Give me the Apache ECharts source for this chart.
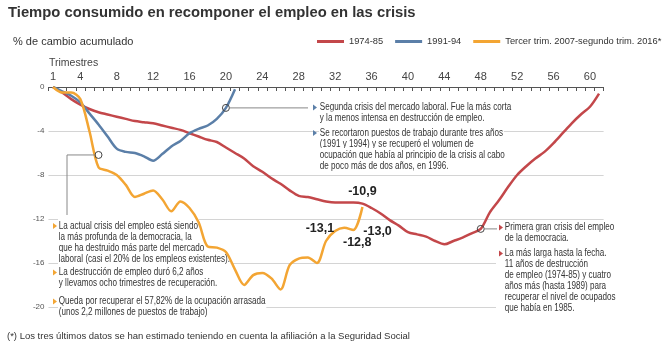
<!DOCTYPE html>
<html><head><meta charset="utf-8">
<script src="https://cdn.jsdelivr.net/npm/echarts@6/dist/echarts.min.js"></script>
<style>html,body{margin:0;padding:0;background:#fff}#c{width:664px;height:347px}</style>
</head><body><div id="c"></div>
<script>
// ---- data ----
const quarters = ['1','2','3','4','5','6','7','8','9','10','11','12','13','14','15','16','17','18','19','20',
  '21','22','23','24','25','26','27','28','29','30','31','32','33','34','35','36','37','38','39','40',
  '41','42','43','44','45','46','47','48','49','50','51','52','53','54','55','56','57','58','59','60','61'];
const shownTicks = ['1','4','8','12','16','20','24','28','32','36','40','44','48','52','56','60'];
const seriesNames = ['1974-85', '1991-94', 'Tercer trim. 2007-segundo trim. 2016*'];
const crisis7485 = [0,-0.5,-1.1,-1.6,-2.0,-2.3,-2.5,-2.7,-2.9,-3.1,-3.2,-3.3,-3.5,-3.7,-3.9,-4.2,-4.5,-4.8,-5.0,-5.5,
  -6.0,-6.5,-7.2,-7.7,-8.3,-8.8,-9.4,-9.9,-10.0,-10.2,-10.4,-10.5,-10.5,-10.5,-10.6,-11.0,-11.5,-12.1,-12.6,-13.2,
  -13.4,-13.6,-14.0,-14.3,-14.0,-13.7,-13.3,-12.9,-11.4,-10.3,-9.1,-8.0,-7.2,-6.5,-5.9,-5.1,-4.2,-3.3,-2.5,-1.8,-0.6];
const crisis9194 = [0,-0.4,-0.8,-1.4,-2.4,-3.4,-4.5,-5.6,-5.9,-6.0,-6.3,-6.7,-6.1,-5.4,-4.9,-4.2,-3.8,-3.5,-2.9,-1.9,-0.2];
const crisis0716 = [0,-0.5,-0.5,-1.1,-4.0,-7.3,-7.6,-8.0,-8.9,-10.0,-9.7,-9.4,-10.2,-11.3,-10.4,-11.0,-12.3,-14.5,-14.6,-15.0,
  -16.6,-18.0,-17.1,-16.9,-17.4,-18.4,-16.2,-15.6,-15.5,-16.0,-14.0,-13.1,-12.8,-13.0,-10.9];
const yMin = -20, yMax = 0, yStep = 4;

// ---- style ----
const RED = '#c3474a', BLUE = '#5b7fa8', ORANGE = '#f3a533';
const SANS = "'Liberation Sans',Arial,Helvetica,sans-serif";
const CONDENSE = 0.81;

const labelStyles = [
  {position:'left', offset:[4,-3]},
  {position:'bottom', offset:[13,3]},
  {position:'right', offset:[5,2]},
  {position:'top', offset:[0,-4]}
];
const firstLabeled = crisis0716.length - 4;
const orangeData = crisis0716.map((v, i) => i >= firstLabeled
  ? {value: v, symbolSize: 0, label: Object.assign({show: true}, labelStyles[i - firstLabeled])}
  : v);

const chart = echarts.init(document.getElementById('c'), null, {renderer: 'canvas'});
const lineBase = {type: 'line', smooth: 0.3, showSymbol: true, showAllSymbol: true, symbol: 'circle', symbolSize: 0,
  emphasis: {disabled: true}, label: {show: false, fontFamily: SANS, fontWeight: 'bold', fontSize: 12.5, color: '#222',
  formatter: p => Number(p.value).toFixed(1).replace('.', ',')}};

chart.setOption({
  animation: false,
  title: {text: 'Tiempo consumido en recomponer el empleo en las crisis', left: 8, top: 5, padding: 0,
    textStyle: {fontFamily: SANS, fontSize: 14.8, fontWeight: 'bold', color: '#333'}},
  legend: {data: seriesNames, left: 317, top: 37, width: 347, padding: 0, icon: 'rect', itemWidth: 27, itemHeight: 3, itemGap: 12,
    textStyle: {fontFamily: SANS, fontSize: 9.3, color: '#333'}},
  grid: {left: 48.45, right: 60.4, top: 87, bottom: 40, containLabel: false},
  xAxis: {type: 'category', data: quarters, position: 'top', boundaryGap: true,
    axisLine: {lineStyle: {color: '#555', width: 1}},
    axisTick: {show: true, inside: true, length: 4, interval: 0, lineStyle: {color: '#555'}},
    axisLabel: {interval: (i, v) => shownTicks.indexOf(v) >= 0, color: '#444', fontFamily: SANS, fontSize: 11, margin: 5},
    splitLine: {show: false}},
  yAxis: {type: 'value', min: yMin, max: yMax, interval: yStep,
    axisLine: {show: false}, axisTick: {show: false},
    axisLabel: {fontFamily: SANS, fontSize: 8, color: '#555', margin: 4},
    splitLine: {lineStyle: {color: '#d4d4d4', width: 1}}},
  series: [
    Object.assign({}, lineBase, {name: seriesNames[0], data: crisis7485, itemStyle: {color: RED}, lineStyle: {color: RED, width: 2.5}}),
    Object.assign({}, lineBase, {name: seriesNames[1], data: crisis9194, itemStyle: {color: BLUE}, lineStyle: {color: BLUE, width: 2.5}}),
    Object.assign({}, lineBase, {name: seriesNames[2], data: orangeData, itemStyle: {color: ORANGE}, lineStyle: {color: ORANGE, width: 2.5}})
  ]
});

// ---- annotations ----
function px(idx, arr) {
  const i0 = Math.floor(idx), f = idx - i0;
  const v = f > 0 ? arr[i0] + f * (arr[i0 + 1] - arr[i0]) : arr[i0];
  return chart.convertToPixel({xAxisIndex: 0, yAxisIndex: 0}, [idx, v]);
}
const els = [];
function txt(x, y, text, o, sx) {
  els.push({type: 'text', x: x, y: y, z: 1, silent: true, scaleX: sx || 1,
    style: Object.assign({text: text, fill: '#333', fontFamily: SANS, fontSize: 10, verticalAlign: 'middle', align: 'left'}, o || {})});
}
function bullet(x, y, color) {
  els.push({type: 'polygon', z: 1, silent: true, shape: {points: [[x, y - 3], [x + 4, y], [x, y + 3]]}, style: {fill: color}});
}
function para(bx, tx, y0, lines, color) {
  bullet(bx, y0, color);
  lines.forEach((l, i) => txt(tx, y0 + i * 11, l, {backgroundColor: '#fff', padding: [2, 1, 2, 1]}, CONDENSE));
}
function circle(p) {
  els.push({type: 'circle', z: 5, silent: true, shape: {cx: p[0], cy: p[1], r: 3.5}, style: {fill: 'none', stroke: '#444', lineWidth: 1}});
}
function leader(points) {
  els.push({type: 'polyline', z: 5, silent: true, shape: {points: points}, style: {stroke: '#888', lineWidth: 1, fill: 'none'}});
}

// red block background
els.push({type: 'rect', z: 1, silent: true, shape: {x: 496, y: 221, width: 122, height: 94}, style: {fill: '#fff'}});

txt(13, 42, '% de cambio acumulado', {fontSize: 11});
txt(49, 63, 'Trimestres', {fontSize: 10.5, fill: '#444'});
txt(7, 336, '(*) Los tres últimos datos se han estimado teniendo en cuenta la afiliación a la Seguridad Social', {fontSize: 9.5});

// blue
para(313, 319, 107.5, ['Segunda crisis del mercado laboral. Fue la más corta', 'y la menos intensa en destrucción de empleo.'], BLUE);
para(313, 319, 133, ['Se recortaron puestos de trabajo durante tres años', '(1991 y 1994) y se recuperó el volumen de',
  'ocupación que había al principio de la crisis al cabo', 'de poco más de dos años, en 1996.'], BLUE);
// orange
para(53, 58, 226, ['La actual crisis del empleo está siendo', 'la más profunda de la democracia, la',
  'que ha destruido más parte del mercado', 'laboral (casi el 20% de los empleos existentes).'], ORANGE);
para(53, 58, 272.5, ['La destrucción de empleo duró 6,2 años', 'y llevamos ocho trimestres de recuperación.'], ORANGE);
para(53, 58, 301.5, ['Queda por recuperar el 57,82% de la ocupación arrasada', '(unos 2,2 millones de puestos de trabajo)'], ORANGE);
// red
para(499, 504, 227.5, ['Primera gran crisis del empleo', 'de la democracia.'], RED);
para(499, 504, 253.5, ['La más larga hasta la fecha.', '11 años de destrucción', 'de empleo (1974-85) y cuatro',
  'años más (hasta 1989) para', 'recuperar el nivel de ocupados', 'que había en 1985.'], RED);

const pB = px(19, crisis9194), pO = px(4.66, crisis0716), pR = px(47, crisis7485);
circle(pB); circle(pO); circle(pR);
leader([[pB[0] + 3.5, pB[1]], [308, pB[1]]]);
leader([[pO[0] - 3.5, pO[1]], [67, pO[1]], [67, 215]]);
leader([[pR[0] + 3.5, pR[1]], [497, pR[1]]]);

chart.setOption({graphic: {elements: els}});
</script></body></html>
